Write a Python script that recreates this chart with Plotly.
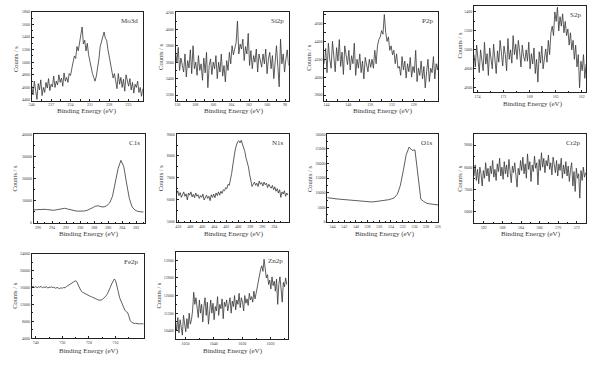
import plotly.graph_objects as go

# ---------------- data ----------------
mo3d_start, mo3d_step = 240.0, 0.2
mo3d_counts = [4620, 4480, 4700, 4530, 4410, 4660, 4560, 4720, 4470, 4600, 4520, 4680, 4590, 4740, 4550, 4650, 4610, 4780, 4600, 4700,
               4640, 4800, 4680, 4750, 4620, 4830, 4700, 4760, 4680, 4820,
               4790, 4900, 4980, 5100, 5060,
               5250, 5180, 5320, 5380, 5560, 5290, 5350, 5180, 5300, 5120,
               5000, 4900, 4820, 4760, 4700, 4780,
               4900, 5050, 5250, 5320, 5400, 5480, 5380,
               5350, 5200, 5080, 4950, 4880, 4750, 4820,
               4700, 4580, 4820, 4650, 4760, 4600, 4730, 4540, 4800, 4680, 4620, 4740, 4560, 4680, 4510, 4650, 4600, 4700, 4520, 4600, 4460, 4580]

si2p_start, si2p_step = 110.2, 0.15
si2p_counts = [3720, 3600, 3780, 3500, 3650, 3560, 3480, 3700, 3420, 3620, 3530, 3750, 3460, 3800, 3520,
               3600, 3440, 3680, 3500, 3580, 3380, 3650, 3470, 3720, 3290, 3560, 3640, 3450, 3600, 3520,
               3680, 3400, 3600, 3480, 3700, 3430, 3560, 3360, 3620, 3500, 3720, 3580, 3800, 3690, 3760,
               3840, 4100, 3700, 3820, 3760,
               3880, 3620, 3790, 3700, 3950, 3560, 3740, 3520, 3680, 3600, 3760, 3480, 3700, 3620, 3540,
               3700, 3580, 3760, 3460, 3640, 3720, 3520, 3680, 3400, 3600, 3800, 3550, 3300, 3880, 3580, 3700, 3480, 3640, 3750, 3560]

p2p_start, p2p_step = 144.4, 0.25
p2p_counts = [4150, 4320, 4050, 4380, 4200, 4100, 4400, 4260, 4060, 4330, 4180, 4420, 4120, 4280, 4030, 4350, 4220, 4140, 4300, 4080,
              4240, 4150, 4380, 4020, 4200, 4100, 4260, 4050, 4180, 3980, 4220, 4130, 4060, 4200, 4110,
              4200, 4100, 4300, 4150, 4350,
              4420, 4450, 4520, 4480, 4700,
              4500, 4400, 4450, 4300, 4350, 4250, 4300, 4150, 4260, 4100,
              4120, 4020, 4230, 4080, 4180, 3990, 4150, 4060, 4220, 4000, 4120, 4050, 4300, 3950, 4100, 4020, 4180, 3980, 4120, 3880,
              4060, 4200, 3950, 4100, 4050, 4230, 3980, 4150, 4080, 4200]

s2p_start, s2p_step = 174.4, 0.15
s2p_counts = [4950, 4820, 5050, 4880, 4760, 5000, 4900, 4780, 5080, 4850, 4960, 4730, 5020, 4890, 4800, 5060, 4910, 4750, 4990, 4870,
              5100, 4920, 4830, 5040, 4950, 4780, 5120, 4900, 5000, 4860, 5150, 4950, 5060, 4900, 5100, 4980, 4820, 5050, 4930, 4880,
              5000, 4880, 5080, 4800, 4960, 4850, 5020, 4750, 4900, 4660, 4980, 4860, 5040, 4800, 4920, 5010, 4870, 5100, 4950, 5180,
              5250, 5150, 5400, 5300, 5450, 5200, 5350, 5250, 5380, 5180,
              5300, 5150, 5220, 5050, 5180, 5000, 5100, 4900, 5050, 4820,
              4950, 4600, 4880, 4780, 4950, 4700, 4850]

c1s_start, c1s_step = 296.6, 0.4
c1s_counts = [5900, 6000, 6100, 6200, 6150, 6000, 5800, 5700, 5900, 6200,
              6500, 6600, 6300, 5900, 5600, 5400, 5300, 5300, 5400, 5700,
              6200, 6900, 7600, 7700, 7300, 7200, 7800, 9000, 12000, 17500,
              24500, 28200, 25500, 18000, 11000, 7200, 5800, 5200, 5000, 4900]

n1s_start, n1s_step = 410.3, 0.2
n1s_counts = [6250, 6400, 6180, 6320, 6100, 6280, 6350, 6150, 6260, 5980, 6300, 6200, 6350, 6120, 6240, 6080, 6300, 6150, 6220, 6050,
              6180, 6100, 6250, 5980, 6120, 6200, 6050, 6150, 5950, 6220, 6100, 6250, 6080, 6300, 6180, 6350, 6200, 6380, 6280, 6450,
              6400, 6550, 6500, 6700, 6650, 6900, 7200, 7600, 8100, 8300,
              8500, 8650, 8700, 8600, 8720,
              8550, 8450, 8200, 7900, 7700, 7500, 7150, 6900, 6600, 6700,
              6800, 6650, 6750, 6600, 6850, 6700, 6780, 6620, 6800, 6680, 6750, 6550, 6700, 6600, 6520, 6650, 6450, 6580, 6380, 6500,
              6300, 6450, 6100, 6350, 6250, 6400, 6150, 6300, 6200]

o1s_start, o1s_step = 544.9, 0.5
o1s_counts = [8300, 8100, 8000, 7900, 7800, 7700, 7600, 7500, 7400, 7300,
              7200, 7100, 7000, 6950, 6900, 6850, 6900, 7000, 7100, 7250,
              7400, 7600, 7900, 8300, 9500, 12500, 17500, 23000, 25600, 24500,
              24600, 16000, 7800, 7000, 6400, 6200, 6000, 5900, 5800]

cr2p_start, cr2p_step = 594.1, 0.25
cr2p_counts = [7600, 8100, 7400, 7900, 7250, 8000, 7700, 7150, 7850, 7500, 8200, 7600, 7950, 7350, 8050, 7700, 8300, 7550, 7900, 7400,
               8150, 7800, 8400, 7600, 8000, 7450, 8250, 7700, 8100, 7550, 8350, 7900, 7300, 8050, 7750, 8200, 7600, 7100, 7950, 7650,
               8300, 7850, 8450, 7700, 8150, 7500, 8600, 7900, 8250, 7350, 8100, 7800, 8500, 7950, 8200, 7200, 8350, 7850, 8650, 8000,
               8400, 7750, 8300, 8050, 8550, 7900, 8200, 7650, 8450, 8000, 7750, 8300, 7600, 8150, 7850, 8400, 7500, 8100, 7700, 8250,
               7600, 8050, 7350, 7900, 8200, 7150, 7800, 6900, 7950, 7500, 7700, 6600, 7850, 7400, 8000, 7550, 7750]

fe2p_start, fe2p_step = 741.5, 0.5
fe2p_counts = [16100, 16250, 16000, 16200, 15950, 16150, 16050, 16250, 15900, 16100, 16000, 16200, 15850, 16050, 16000, 16150, 15900, 16050, 15800, 16000,
               15850, 15700, 15950, 15800, 16000, 15900, 16200, 16400, 16600, 16900,
               17000, 17200, 17350, 17600, 17200, 16500,
               15800, 15200, 14900, 14700, 14500, 14300, 14200, 14050, 13900, 13800,
               13600, 13450, 13300, 13200, 13050, 12950, 13000, 13150, 13400, 13700,
               14100, 14600, 15200, 16000, 16800, 17500, 18000,
               17600, 16500, 15000, 13600, 12800, 12000, 11200, 10600,
               10300, 10100, 9200, 8200, 7800, 7600, 7500, 7550, 7450, 7500, 7400, 7450, 7350, 7400]

zn2p_start, zn2p_step = 1053.5, 0.4
zn2p_counts = [10800, 10400, 11000, 10300, 10900, 10550, 10200, 11100, 10650, 10350, 10950, 10500, 11200, 10700, 10900,
               11300, 12150, 11600, 11900,
               11400, 11000, 11800, 11200, 11600, 10800, 11500, 11900, 11100, 11700, 10700, 11400, 11800, 11200, 11650, 10900,
               11500, 11300, 11950, 11100, 11600, 11400, 11850, 10950, 11700, 11500,
               11800, 11300, 11650, 11900, 11200, 11750, 11500, 12000, 11350, 11800, 11600, 12100, 11450, 11900, 11700, 11300,
               12000, 11650, 11850, 11550, 12100, 11800, 11950, 11700, 12200, 11850, 12100,
               12400, 12700, 13000, 13200, 13350, 13100, 13650,
               13200, 12800, 12950, 12500, 12700, 12300, 12850, 12450, 12650, 12200, 12750, 11600, 12500, 12850, 12300, 11700,
               12600, 12400, 12800, 12500]

panel_names = ["Mo3d", "Si2p", "P2p", "S2p", "C1s", "N1s", "O1s", "Cr2p", "Fe2p", "Zn2p"]

x_ticks = [
    [240, 237, 234, 231, 228, 225],
    [110, 108, 106, 104, 102, 100, 98],
    [144, 140, 136, 132, 128],
    [174, 171, 168, 165, 162],
    [296, 294, 292, 290, 288, 286, 284, 282],
    [410, 408, 406, 404, 402, 400, 398, 396, 394],
    [544, 542, 540, 538, 536, 534, 532, 530, 528, 526],
    [592, 588, 584, 580, 576, 572],
    [740, 730, 720, 710],
    [1050, 1040, 1030, 1020],
]
y_ticks = [
    [4400, 4600, 4800, 5000, 5200, 5400, 5600, 5800],
    [3200, 3400, 3600, 3800, 4000, 4200],
    [3800, 4000, 4200, 4400, 4600],
    [4600, 4800, 5000, 5200, 5400],
    [0, 10000, 20000, 30000, 40000],
    [5000, 6000, 7000, 8000, 9000],
    [0, 5000, 10000, 15000, 20000, 25000, 30000],
    [6000, 7000, 8000, 9000],
    [4000, 8000, 12000, 16000, 20000, 24000],
    [10400, 11200, 12000, 12800, 13600],
]

# ---------------- layout / styling ----------------
W, H = 600, 365
# plot boxes in pixels: (left, right, top, bottom)
boxes = [
    (29, 141, 9, 99), (174, 288, 9, 99), (324, 439, 9, 99), (475, 588, 3, 90),
    (31, 143, 133, 223), (175, 288, 133, 222), (327, 439, 133, 222), (475, 588, 133, 223),
    (29, 142, 254, 340), (174, 287, 252, 341),
]
x_ranges = [[240.0, 222.8], [110.2, 97.6], [144.4, 123.5], [174.4, 161.5], [296.6, 280.8],
            [410.3, 391.6], [544.9, 525.9], [594.1, 570.0], [741.5, 699.4], [1053.5, 1014.0]]
y_ranges = [[4390, 5800], [3132, 4212], [3737, 4730], [4558, 5463], [0, 40000],
            [4970, 9000], [0, 30000], [5480, 9490], [4000, 24000], [10010, 14000]]
xtitle_pos = [(85, 110), (233, 110), (383, 110), (534, 102), (87, 234),
              (233, 234), (385, 234), (532, 234), (87, 353), (232, 353)]
ytitle_pos = [(12, 57), (159, 55), (308, 55), (460, 43), (12, 178),
              (159, 178), (309, 178), (460, 178), (12, 297), (157, 297)]

series = [
    (mo3d_start, mo3d_step, mo3d_counts),
    (si2p_start, si2p_step, si2p_counts),
    (p2p_start, p2p_step, p2p_counts),
    (s2p_start, s2p_step, s2p_counts),
    (c1s_start, c1s_step, c1s_counts),
    (n1s_start, n1s_step, n1s_counts),
    (o1s_start, o1s_step, o1s_counts),
    (cr2p_start, cr2p_step, cr2p_counts),
    (fe2p_start, fe2p_step, fe2p_counts),
    (zn2p_start, zn2p_step, zn2p_counts),
]

FONT = "Liberation Serif"
TXT = "#3a3a3a"


def midpoints(vals, lo, hi):
    """minor tick positions halfway between (and just outside) the major ticks"""
    step = vals[1] - vals[0]
    out = [v + step / 2 for v in [vals[0] - step] + vals]
    a, b = min(lo, hi), max(lo, hi)
    return [v for v in out if a <= v <= b]


fig = go.Figure()
annotations = []
layout = dict(width=W, height=H, margin=dict(l=0, r=0, t=0, b=0),
              paper_bgcolor="white", plot_bgcolor="white", showlegend=False,
              font=dict(family=FONT, color=TXT))

for i, (start, step, counts) in enumerate(series):
    n = i + 1
    xa = "x" if n == 1 else f"x{n}"
    ya = "y" if n == 1 else f"y{n}"
    energy = [round(start - step * k, 3) for k in range(len(counts))]
    fig.add_trace(go.Scatter(x=energy, y=counts, mode="lines", xaxis=xa, yaxis=ya,
                             line=dict(color="#363636", width=0.8), hoverinfo="skip"))
    l, r, t, b = boxes[i]
    ax_common = dict(showline=True, linecolor="#222", linewidth=1, mirror=True,
                     showgrid=False, zeroline=False, ticks="inside", ticklen=2,
                     tickwidth=0.6, tickcolor="#222",
                     tickfont=dict(family=FONT, size=4, color=TXT))
    layout["xaxis" if n == 1 else f"xaxis{n}"] = dict(
        ax_common, domain=[l / W, r / W], anchor=ya, range=x_ranges[i],
        tickvals=x_ticks[i], ticktext=[str(v) for v in x_ticks[i]],
        minor=dict(ticks="inside", ticklen=1.2, tickwidth=0.5, tickcolor="#222",
                   tickvals=midpoints(x_ticks[i], *x_ranges[i])))
    layout["yaxis" if n == 1 else f"yaxis{n}"] = dict(
        ax_common, domain=[1 - b / H, 1 - t / H], anchor=xa, range=y_ranges[i],
        tickvals=y_ticks[i], ticktext=[str(v) for v in y_ticks[i]],
        minor=dict(ticks="inside", ticklen=1.2, tickwidth=0.5, tickcolor="#222",
                   tickvals=midpoints(y_ticks[i], *y_ranges[i])))
    # panel label
    annotations.append(dict(text=panel_names[i], x=(r - 3) / W, y=1 - (t + 3) / H,
                            xref="paper", yref="paper", xanchor="right", yanchor="top",
                            showarrow=False, font=dict(family=FONT, size=7, color=TXT)))
    xt = xtitle_pos[i]
    annotations.append(dict(text="Binding Energy (eV)", x=xt[0] / W, y=1 - xt[1] / H,
                            xref="paper", yref="paper", xanchor="center", yanchor="middle",
                            showarrow=False, font=dict(family=FONT, size=7, color=TXT)))
    yt = ytitle_pos[i]
    annotations.append(dict(text="Counts / s", x=yt[0] / W, y=1 - yt[1] / H, textangle=-90,
                            xref="paper", yref="paper", xanchor="center", yanchor="middle",
                            showarrow=False, font=dict(family=FONT, size=6.5, color=TXT)))

layout["annotations"] = annotations
fig.update_layout(**layout)
# remove the browser's default 8px page margin so the figure sits at the window origin
fig.write_html("out.html", config={"displayModeBar": False},
               post_script="document.body.style.margin='0';")
